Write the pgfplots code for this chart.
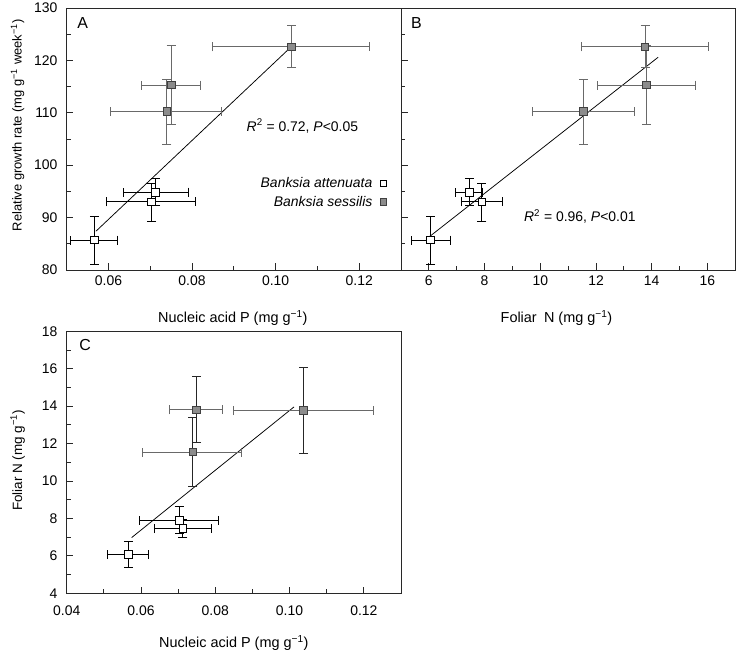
\documentclass[border=0pt]{standalone}
\usepackage{pgfplots}
\pgfplotsset{compat=1.18}
\usepackage{pgfplotstable}
\usepackage{fontspec}
\setmainfont{Liberation Sans}

\definecolor{sesfill}{RGB}{140,140,140}
\definecolor{sesbar}{RGB}{105,105,105}
\definecolor{axcol}{RGB}{40,40,40}

% Banksia attenuata
\pgfplotstableread{
nap naplo naphi rgr rgrlo rgrhi n nlo nhi
0.0566 0.0510 0.0621 85.7 81.0 90.3 6.06 5.37 6.77
0.0713 0.0636 0.0791 94.85 92.3 97.4 7.45 6.96 7.94
0.0703 0.0596 0.0808 93.0 89.3 96.6 7.90 7.18 8.63
}\att
% Banksia sessilis
\pgfplotstableread{
nap naplo naphi rgr rgrlo rgrhi n nlo nhi
0.1038 0.0849 0.1225 122.6 118.7 126.6 13.76 11.48 16.05
0.0750 0.0678 0.0820 115.3 107.7 122.9 13.80 12.05 15.57
0.0740 0.0605 0.0871 110.2 104.0 116.3 11.55 9.71 13.38
}\ses

\pgfplotsset{
  panel/.style={scale only axis, width=334.3bp, height=262bp,
    axis line style={draw=axcol, line width=0.9bp},
    tick align=inside, tick pos=left,
    major tick length=6.5bp, minor tick length=4bp,
    every tick/.style={draw=axcol, line width=0.9bp},
    ticklabel style={font=\fontsize{14}{16}\selectfont},
    label style={font=\fontsize{14.5}{17}\selectfont},
    /pgf/number format/assume math mode=true,
    clip=false},
  attmark/.style={only marks, mark=square*, mark size=3.8bp,
    mark options={fill=white, draw=black, line width=0.9bp, solid}},
  sesmark/.style={only marks, mark=square*, mark size=3.8bp,
    mark options={fill=sesfill, draw=black!75, line width=0.9bp, solid}},
  xyerr/.style={error bars/.cd, x dir=both, y dir=both, x explicit, y explicit,
    error bar style={draw=#1, line width=1bp, solid},
    error mark options={rotate=90, mark size=4.5bp, draw=#1, line width=1bp}},
  xerr/.style={error bars/.cd, x dir=both, x explicit,
    error bar style={draw=#1, line width=1bp, solid},
    error mark options={rotate=90, mark size=4.5bp, draw=#1, line width=1bp}},
  yerr/.style={error bars/.cd, y dir=both, y explicit,
    error bar style={draw=#1, line width=1bp, solid},
    error mark options={rotate=90, mark size=4.5bp, draw=#1, line width=1bp}},
  napfmt/.style={xticklabel style={/pgf/number format/fixed, /pgf/number format/fixed zerofill, /pgf/number format/precision=2}},
}

\begin{document}
\begin{tikzpicture}
\path[use as bounding box] (0,0) rectangle (736bp,653bp);

% ---------------- Panel A ----------------
\begin{axis}[panel, napfmt, at={(66.7bp,383bp)}, anchor=south west,
  xmin=0.05, xmax=0.13, ymin=80, ymax=130,
  xtick={0.06,0.08,0.10,0.12}, minor xtick={0.05,0.07,0.09,0.11,0.13},
  ytick={80,90,...,130}, minor ytick={85,95,...,125},
  xticklabel style={inner ysep=5.5bp}, yticklabel style={inner xsep=9bp},
  xlabel={Nucleic acid P (mg g\textsuperscript{−1})},
  xlabel style={at={(axis description cs:0.497,-0.183)}, anchor=center},
  ylabel={Relative growth rate (mg g\textsuperscript{−1} week\textsuperscript{−1})},
  ylabel style={at={(axis description cs:-0.147,0.552)}, anchor=center, font=\fontsize{13}{15}\selectfont},
  legend style={draw=none, fill=none, font=\fontsize{14}{16}\selectfont\itshape,
    at={(rel axis cs:0.958,0.362)}, anchor=north east, inner sep=0pt, row sep=3bp, column sep=6bp},
  legend cell align=right, legend plot pos=right,
]
\addplot[black, line width=0.75bp, forget plot] coordinates {(0.0570,87.4) (0.1036,122.5)};
\addplot[attmark, forget plot, xyerr=black] table[x=nap, y=rgr,
  x error plus expr=\thisrow{naphi}-\thisrow{nap}, x error minus expr=\thisrow{nap}-\thisrow{naplo},
  y error plus expr=\thisrow{rgrhi}-\thisrow{rgr}, y error minus expr=\thisrow{rgr}-\thisrow{rgrlo}] {\att};
\addplot[sesmark, forget plot, xyerr=sesbar] table[x=nap, y=rgr,
  x error plus expr=\thisrow{naphi}-\thisrow{nap}, x error minus expr=\thisrow{nap}-\thisrow{naplo},
  y error plus expr=\thisrow{rgrhi}-\thisrow{rgr}, y error minus expr=\thisrow{rgr}-\thisrow{rgrlo}] {\ses};
\addlegendimage{only marks, mark=square*, mark size=3.2bp, mark options={fill=white, draw=black, line width=0.8bp}}
\addlegendentry{Banksia attenuata}
\addlegendimage{only marks, mark=square*, mark size=3.2bp, mark options={fill=sesfill, draw=black!75, line width=0.8bp}}
\addlegendentry{Banksia sessilis}
\node[font=\fontsize{14}{16}\selectfont] at (axis cs:0.1064,107.5) {\textit{R}\textsuperscript{2} = 0.72, \textit{P}<0.05};
\node[font=\fontsize{16}{18}\selectfont, anchor=north west, inner sep=0pt] at (rel axis cs:0.031,0.966) {A};
\end{axis}

% ---------------- Panel B ----------------
\begin{axis}[panel, at={(401bp,383bp)}, anchor=south west,
  xmin=5, xmax=17, ymin=80, ymax=130,
  xtick={6,8,...,16}, minor xtick={5,7,...,17},
  ytick={80,90,...,130}, minor ytick={85,95,...,125}, yticklabels={},
  xticklabel style={inner ysep=5.5bp},
  xlabel={Foliar\enspace N (mg g\textsuperscript{−1})},
  xlabel style={at={(axis description cs:0.465,-0.183)}, anchor=center},
]
\addplot[black, line width=0.75bp] coordinates {(5.90,85.86) (14.23,120.6)};
\addplot[attmark, xyerr=black] table[x=n, y=rgr,
  x error plus expr=\thisrow{nhi}-\thisrow{n}, x error minus expr=\thisrow{n}-\thisrow{nlo},
  y error plus expr=\thisrow{rgrhi}-\thisrow{rgr}, y error minus expr=\thisrow{rgr}-\thisrow{rgrlo}] {\att};
\addplot[sesmark, xyerr=sesbar] table[x=n, y=rgr,
  x error plus expr=\thisrow{nhi}-\thisrow{n}, x error minus expr=\thisrow{n}-\thisrow{nlo},
  y error plus expr=\thisrow{rgrhi}-\thisrow{rgr}, y error minus expr=\thisrow{rgr}-\thisrow{rgrlo}] {\ses};
\node[font=\fontsize{14}{16}\selectfont] at (axis cs:11.42,90.2) {\textit{R}\textsuperscript{2} = 0.96, \textit{P}<0.01};
\node[font=\fontsize{16}{18}\selectfont, anchor=north west, inner sep=0pt] at (rel axis cs:0.030,0.966) {B};
\end{axis}

% ---------------- Panel C ----------------
\begin{axis}[panel, napfmt, at={(66.7bp,59.7bp)}, anchor=south west,
  xmin=0.04, xmax=0.13, ymin=4, ymax=18,
  xtick={0.04,0.06,0.08,0.10,0.12}, minor xtick={0.05,0.07,0.09,0.11,0.13},
  ytick={4,6,...,18}, minor ytick={5,7,...,17},
  xticklabel style={inner ysep=12.5bp}, yticklabel style={inner xsep=9bp},
  xlabel={Nucleic acid P (mg g\textsuperscript{−1})},
  xlabel style={at={(axis description cs:0.5,-0.19)}, anchor=center},
  ylabel={Foliar N (mg g\textsuperscript{−1})},
  ylabel style={at={(axis description cs:-0.147,0.507)}, anchor=center, font=\fontsize{13.5}{15}\selectfont},
]
\addplot[black, line width=0.75bp] coordinates {(0.0575,6.98) (0.1012,13.96)};
\addplot[attmark, xyerr=black] table[x=nap, y=n,
  x error plus expr=\thisrow{naphi}-\thisrow{nap}, x error minus expr=\thisrow{nap}-\thisrow{naplo},
  y error plus expr=\thisrow{nhi}-\thisrow{n}, y error minus expr=\thisrow{n}-\thisrow{nlo}] {\att};
\addplot[only marks, mark=none, xerr=sesbar] table[x=nap, y=n,
  x error plus expr=\thisrow{naphi}-\thisrow{nap}, x error minus expr=\thisrow{nap}-\thisrow{naplo}] {\ses};
\addplot[sesmark, yerr=black!85] table[x=nap, y=n,
  y error plus expr=\thisrow{nhi}-\thisrow{n}, y error minus expr=\thisrow{n}-\thisrow{nlo}] {\ses};
\node[font=\fontsize{16}{18}\selectfont, anchor=north west, inner sep=0pt] at (rel axis cs:0.037,0.97) {C};
\end{axis}
\end{tikzpicture}
\end{document}
